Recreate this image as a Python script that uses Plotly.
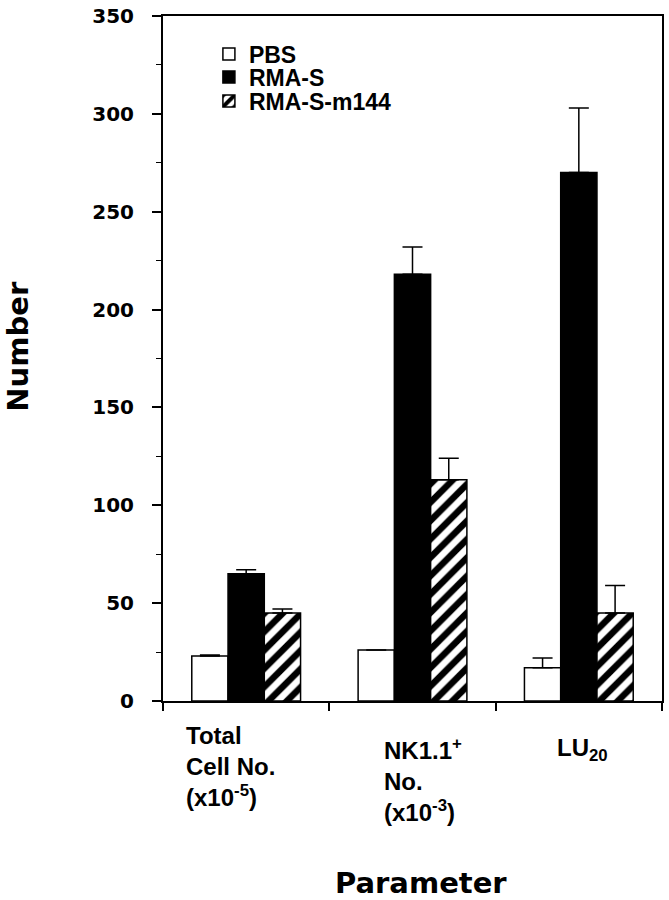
import plotly.graph_objects as go

categories = [0, 1, 2]
series_names = ["PBS", "RMA-S", "RMA-S-m144"]
pbs = [23, 26, 17]
pbs_err = [0.5, 0, 5]
rmas = [65, 218, 270]
rmas_err = [2, 14, 33]
m144 = [45, 113, 45]
m144_err = [2, 11, 14]
cat_labels = ["Total<br>Cell No.<br>(x10<sup>-5</sup>)", "NK1.1<sup>+</sup><br>No.<br>(x10<sup>-3</sup>)", "LU<sub>20</sub>"]
y_ticks = [0, 50, 100, 150, 200, 250, 300, 350]

fig = go.Figure()

line = dict(color="black", width=1.5)

def err(vals):
    return dict(type="data", array=vals, arrayminus=[0] * len(vals), symmetric=False,
                color="black", thickness=1.5, width=10, visible=True)

fig.add_trace(go.Bar(x=categories, y=pbs, name=series_names[0], error_y=err(pbs_err),
                     marker=dict(color="white", line=line), legend="legend"))
fig.add_trace(go.Bar(x=categories, y=rmas, name=series_names[1], error_y=err(rmas_err),
                     marker=dict(color="black", line=line), legend="legend2"))
fig.add_trace(go.Bar(x=categories, y=m144, name=series_names[2], error_y=err(m144_err),
                     marker=dict(color="white", line=line,
                                 pattern=dict(shape="/", fgcolor="black", bgcolor="white",
                                              size=13, solidity=0.5, fgopacity=1)),
                     legend="legend3"))

lfont = dict(family="Liberation Sans", size=23, color="black", weight="bold")
leg_common = dict(x=0.092, xanchor="left", yanchor="middle", font=lfont,
                  bgcolor="rgba(0,0,0,0)", borderwidth=0)
fig.update_layout(
    legend=dict(y=0.9445, **leg_common),
    legend2=dict(y=0.911, **leg_common),
    legend3=dict(y=0.876, **leg_common),
)

fig.update_layout(
    width=669, height=900,
    margin=dict(l=163, r=7, t=16, b=199, autoexpand=False),
    paper_bgcolor="white", plot_bgcolor="white",
    barmode="group", bargap=0.346, bargroupgap=0,
    showlegend=True,
)

fig.update_xaxes(
    range=[-0.5, 2.5], tickvals=[-0.5, 0.5, 1.5, 2.5], showticklabels=False,
    ticks="outside", ticklen=8, tickwidth=1.5, tickcolor="black",
    showline=True, linecolor="black", linewidth=2, mirror=True,
    showgrid=False, zeroline=False, automargin=False,
)
fig.update_yaxes(
    range=[0, 350], tickvals=y_ticks, ticktext=[str(v) for v in y_ticks],
    ticks="outside", ticklen=9, tickwidth=1.5, tickcolor="black",
    minor=dict(dtick=25, ticks="outside", ticklen=5, tickwidth=1, tickcolor="black", showgrid=False),
    tickfont=dict(family="DejaVu Sans", size=20, color="black", weight="bold"),
    ticklabelstandoff=14,
    showline=True, linecolor="black", linewidth=2, mirror=True,
    showgrid=False, zeroline=False, automargin=False,
)

afont = dict(family="Liberation Sans", size=24, color="black", weight="bold")
label_x = [-0.374, 0.817, 1.857]
label_y = [-0.0277, -0.0453, -0.0453]
for lx, ly, txt in zip(label_x, label_y, cat_labels):
    fig.add_annotation(x=lx, y=ly, xref="x", yref="paper", text=txt, showarrow=False,
                       xanchor="left", yanchor="top", align="left", font=afont)

tfont = dict(family="DejaVu Sans", size=29, color="black", weight="bold")
fig.add_annotation(x=-0.2896, y=0.518, xref="paper", yref="paper", text="Number",
                   textangle=-90, showarrow=False, xanchor="center", yanchor="middle", font=tfont)
fig.add_annotation(x=0.517, y=-0.266, xref="paper", yref="paper", text="Parameter",
                   showarrow=False, xanchor="center", yanchor="middle", font=tfont)

fig.write_html("out.html", config={"displayModeBar": False},
               post_script="document.body.style.margin='0px';document.body.style.overflow='hidden';")
